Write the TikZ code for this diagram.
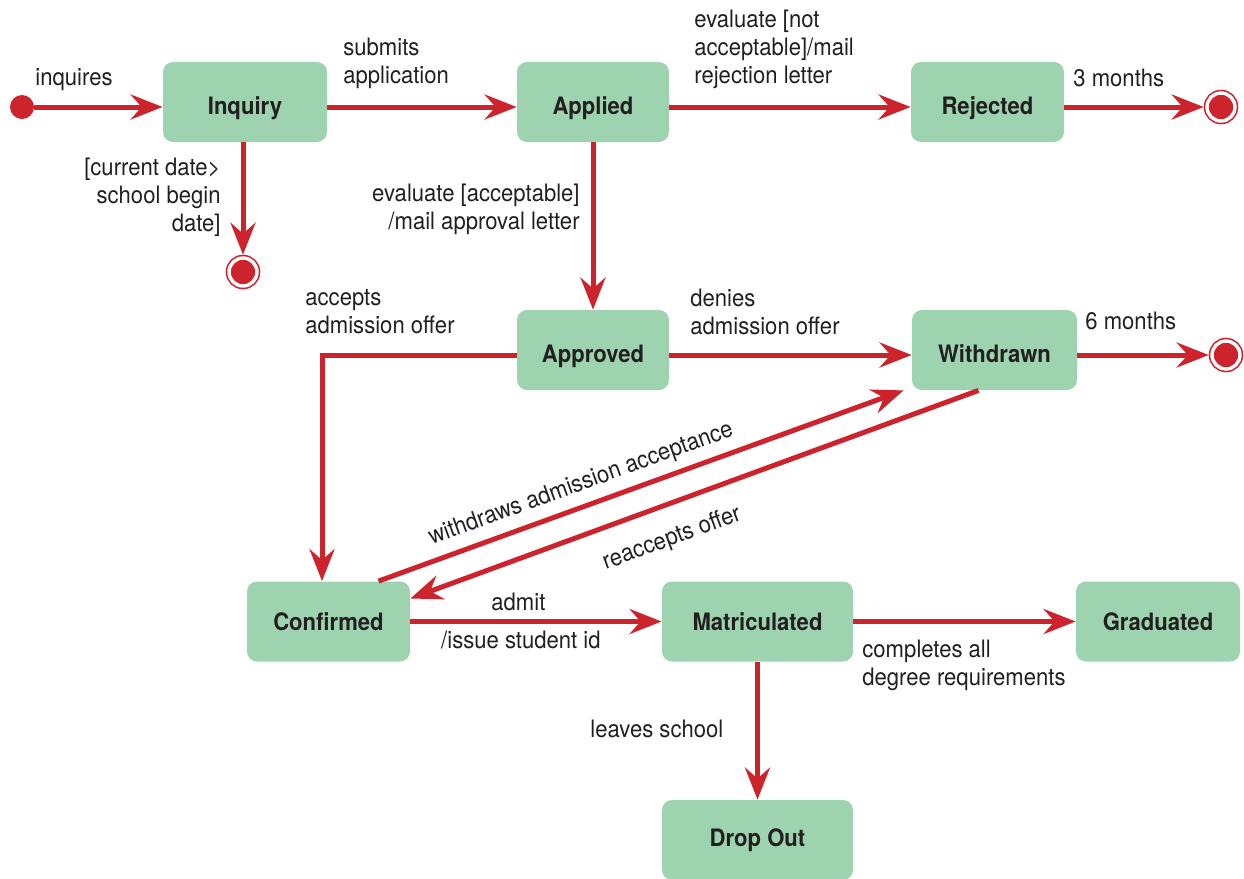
\documentclass[tikz,border=0pt]{standalone}
\usepackage{fontspec}
\setmainfont{TeX Gyre Heros}[FakeStretch=0.92]
\usetikzlibrary{arrows.meta,positioning,calc}
\definecolor{stategreen}{RGB}{157,212,175}
\definecolor{flowred}{RGB}{205,35,44}
\definecolor{inkdark}{RGB}{35,31,32}
\tikzset{
 adm state/.style={rectangle,rounded corners=5pt,fill=stategreen,draw=none,
                   minimum height=40pt,inner sep=0pt,text=inkdark,
                   font=\fontsize{12}{14}\selectfont\bfseries},
 adm low/.style={text height=12.8pt,text depth=0pt},
 adm flow/.style={line width=2.5pt,draw=flowred,
                  -{Stealth[length=16pt,width=12.5pt,inset=5.5pt]}},
 adm label/.style={inner sep=0pt,text=inkdark,align=left,
                   font=\fontsize{12}{14}\selectfont},
 adm start/.style={circle,fill=flowred,minimum size=12pt,inner sep=0pt},
 adm final/.style={circle,fill=flowred,draw=flowred,line width=0.8pt,
                   double=white,double distance=1.7pt,minimum size=14pt,
                   inner sep=0pt,outer sep=1.65pt}
}

\begin{document}
\begin{tikzpicture}[x=0.5pt,y=-0.5pt]
 \useasboundingbox (0,0) rectangle (1244,879);
 % states
 \node[adm start] (init) at (22,107) {};
 \node[adm state,adm low,minimum width=82pt]   (inquiry)   at (245,102)   {Inquiry};
 \node[adm state,adm low,minimum width=76pt]   (applied)   at (593,102)   {Applied};
 \node[adm state,adm low,minimum width=76.5pt] (rejected)  at (987.5,102) {Rejected};
 \node[adm final] (endRej) at (1221,107) {};
 \node[adm final] (endInq) at (243,272) {};
 \node[adm state,adm low,minimum width=76pt]   (approved)  at (593,350)   {Approved};
 \node[adm state,adm low,minimum width=82.5pt] (withdrawn) at (994.5,350) {Withdrawn};
 \node[adm final] (endWd) at (1226,355) {};
 \node[adm state,minimum width=81.5pt] (confirmed) at (328.5,621.5) {Confirmed};
 \node[adm state,minimum width=95.5pt] (matric)    at (757.5,621.5) {Matriculated};
 \node[adm state,minimum width=82pt]   (graduated) at (1158,621.5)  {Graduated};
 \node[adm state,minimum width=95.5pt] (dropout)   at (757.5,840)   {Drop Out};

 % transitions
 \draw[adm flow] (init) -- ([yshift=-2.5pt]inquiry.west);
 \draw[adm flow] ([yshift=-2.5pt]inquiry.east) -- ([yshift=-2.5pt]applied.west);
 \draw[adm flow] ([yshift=-2.5pt]applied.east) -- ([yshift=-2.5pt]rejected.west);
 \draw[adm flow] ([yshift=-2.5pt]rejected.east) -- (endRej);
 \draw[adm flow] (endInq |- inquiry.south) -- (endInq);
 \draw[adm flow] (applied) -- (approved);
 \draw[adm flow] ([yshift=-2.5pt]approved.east) -- ([yshift=-2.5pt]withdrawn.west);
 \draw[adm flow] ([yshift=-2.5pt]withdrawn.east) -- (endWd);
 \draw[adm flow] ([yshift=-2.5pt]approved.west) -| ([xshift=-3.25pt]confirmed.north);
 \draw[adm flow] ([xshift=25pt]confirmed.north) -- ([xshift=-4pt]withdrawn.south west)
   node[adm label,sloped,above=4pt,pos=0.4] (lWithdraws) {withdraws admission acceptance};
 \draw[adm flow] ([xshift=-8pt]withdrawn.south) -- ([yshift=11.5pt]confirmed.east)
   node[adm label,sloped,below=10pt,pos=0.56] (lReaccepts) {reaccepts offer};
 \draw[adm flow] (confirmed) -- (matric)
   node[adm label,above=4pt,pos=0.43] (lAdmit) {admit}
   node[adm label,below=3.5pt,pos=0.44] (lIssue) {/issue student id};
 \draw[adm flow] (matric) -- (graduated);
 \draw[adm flow] (matric) -- (dropout);

 % labels
 \node[adm label,anchor=north west] (lInquires) at (35,68) {inquires};
 \node[adm label,anchor=north west] (lSubmits) at (343,38) {submits\\application};
 \node[adm label,anchor=north west] (lNotOk) at (694,10)
   {evaluate [not\\acceptable]/mail\\rejection letter};
 \node[adm label,anchor=north west] (lThree) at (1073,69) {3 months};
 \node[adm label,anchor=north east,align=right] (lDate) at (221,158)
   {[current date>\\school begin\\date]};
 \node[adm label,anchor=north east,align=right] (lOk) at (580,184)
   {evaluate [acceptable]\\/mail approval letter};
 \node[adm label,anchor=north west] (lAccepts) at (305,289) {accepts\\admission offer};
 \node[adm label,anchor=north west] (lDenies) at (690,289) {denies\\admission offer};
 \node[adm label,anchor=north west] (lSix) at (1085,312) {6 months};
 \node[adm label,anchor=north west] (lCompletes) at (862,640)
   {completes all\\degree requirements};
 \node[adm label,anchor=west] (lLeaves) at (590,729) {leaves school};
\end{tikzpicture}
\end{document}
